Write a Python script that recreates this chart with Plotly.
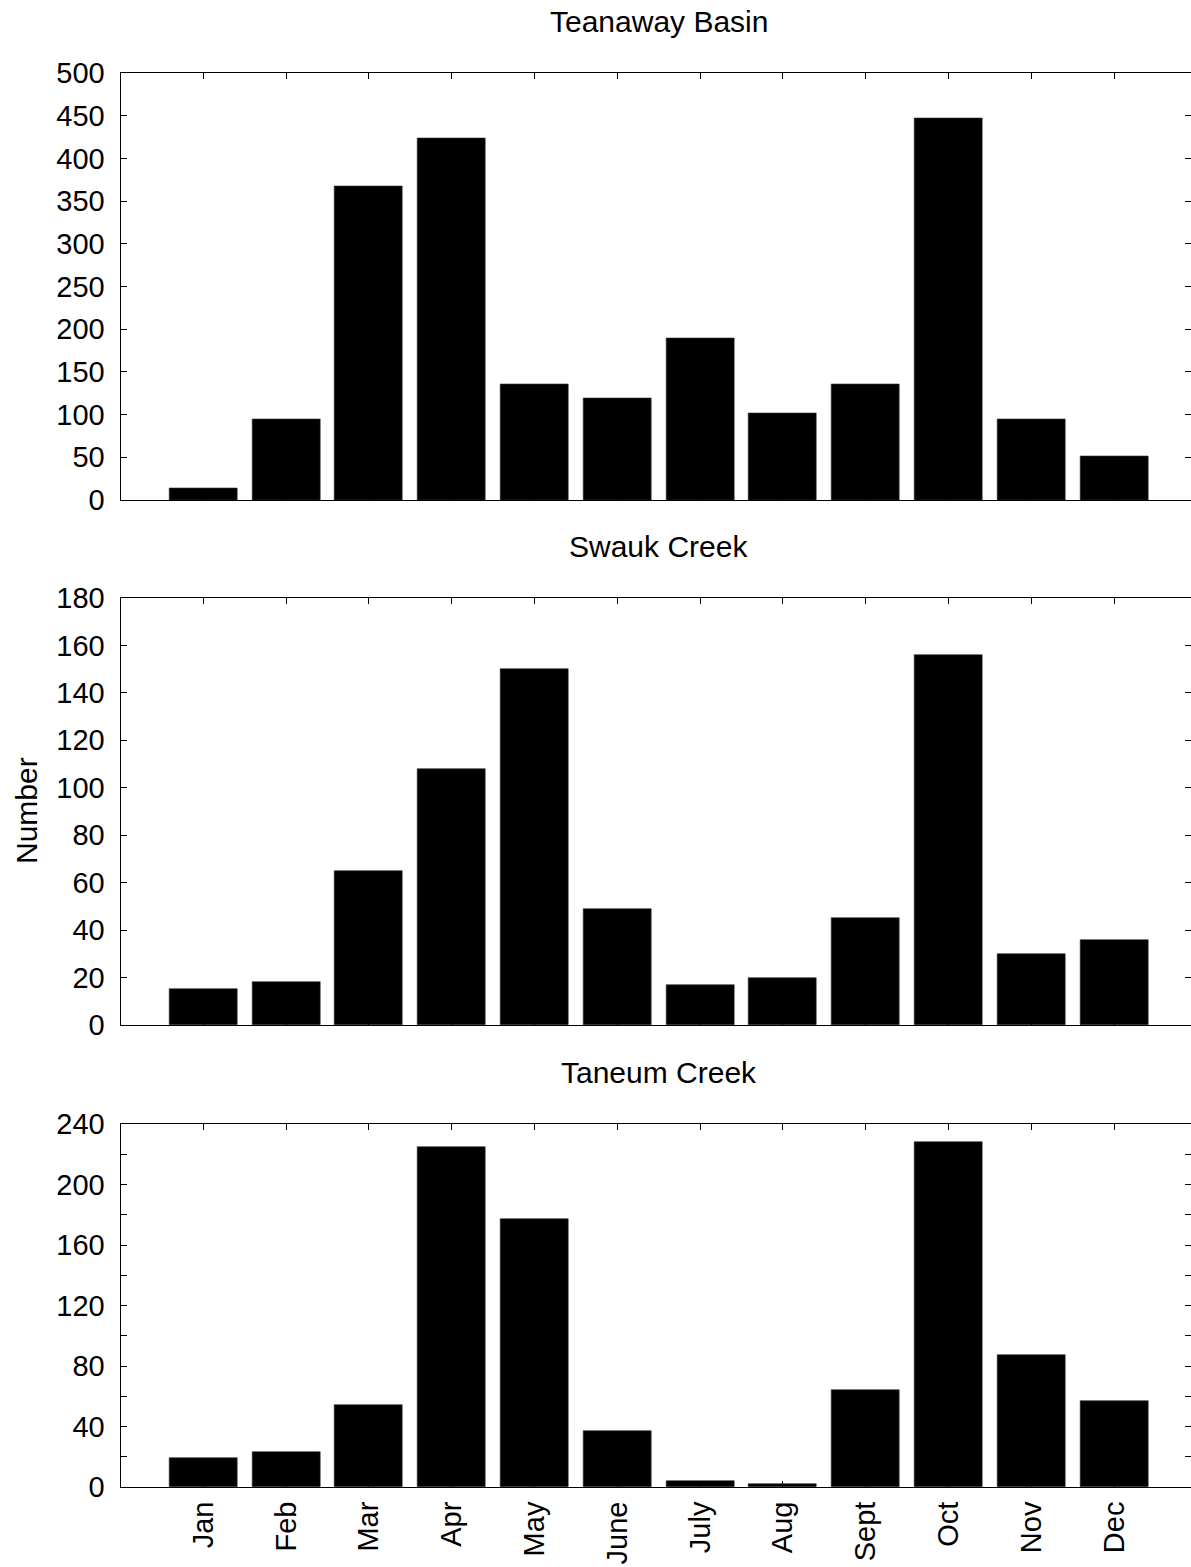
import plotly.graph_objects as go

months = ["Jan", "Feb", "Mar", "Apr", "May", "June", "July", "Aug", "Sept", "Oct", "Nov", "Dec"]
teanaway = [14, 94, 368, 424, 135, 119, 189, 102, 136, 447, 94, 51]
swauk = [15, 18, 65, 108, 150, 49, 17, 20, 45, 156, 30, 36]
taneum = [19, 23, 54, 225, 177, 37, 4, 2, 64, 228, 87, 57]

titles = ["Teanaway Basin", "Swauk Creek", "Taneum Creek"]
series = [teanaway, swauk, taneum]
y_max = [500, 180, 240]
y_step = [50, 20, 20]
y_label_step = [50, 20, 40]

W, H = 1191, 1567
panels_px = [(73.3, 500), (598, 1025), (1124, 1487)]
title_px = [22, 547, 1072]
x_left_px = 120.5
cat_px = 82.8
jan_px = 203.3

FONT = "Liberation Sans, Arial, sans-serif"
fs_tick = 29
fs_text = 30

fig = go.Figure()
for i, (vals, top_bot) in enumerate(zip(series, panels_px)):
    sfx = "" if i == 0 else str(i + 1)
    fig.add_trace(go.Bar(
        x=months, y=vals, width=0.82,
        marker=dict(color="black", line=dict(color="#333333", width=0.6)),
        xaxis="x" + sfx, yaxis="y" + sfx, showlegend=False,
    ))
    top, bot = top_bot
    xr = [-(jan_px - x_left_px) / cat_px, (W - jan_px) / cat_px]
    tv = list(range(0, y_max[i] + 1, y_step[i]))
    tt = [str(v) if v % y_label_step[i] == 0 else "" for v in tv]
    fig.layout["xaxis" + sfx] = dict(
        domain=[x_left_px / W, 1], range=xr, anchor="y" + sfx,
        type="category", categoryorder="array", categoryarray=months,
        showline=True, linecolor="black", linewidth=1, mirror="ticks",
        ticks="inside", ticklen=6, tickcolor="black", tickwidth=1,
        showgrid=False, zeroline=False, automargin=False,
        showticklabels=(i == 2), tickangle=-90,
        tickfont=dict(family=FONT, size=29, color="black"),
        ticklabelstandoff=2,
    )
    fig.layout["yaxis" + sfx] = dict(
        domain=[1 - bot / H, 1 - top / H], range=[0, y_max[i]], anchor="x" + sfx,
        tickmode="array", tickvals=tv, ticktext=tt,
        showline=True, linecolor="black", linewidth=1, mirror="ticks",
        ticks="inside", ticklen=6, tickcolor="black", tickwidth=1,
        showgrid=False, zeroline=False, automargin=False,
        tickfont=dict(family=FONT, size=fs_tick, color="black"),
        ticklabelstandoff=9,
    )
    fig.add_annotation(
        text=titles[i], xref="paper", yref="paper",
        x=658.6 / W, y=1 - title_px[i] / H, xanchor="center", yanchor="middle",
        showarrow=False, font=dict(family=FONT, size=fs_text, color="black"),
    )

fig.add_annotation(
    text="Number", xref="paper", yref="paper", x=26 / W, y=1 - 811 / H,
    xanchor="center", yanchor="middle", textangle=-90, showarrow=False,
    font=dict(family=FONT, size=fs_text, color="black"),
)

fig.update_layout(
    width=W, height=H, margin=dict(l=0, r=0, t=0, b=0, autoexpand=False),
    plot_bgcolor="white", paper_bgcolor="white", bargap=0,
)
fig.write_html("out.html")
